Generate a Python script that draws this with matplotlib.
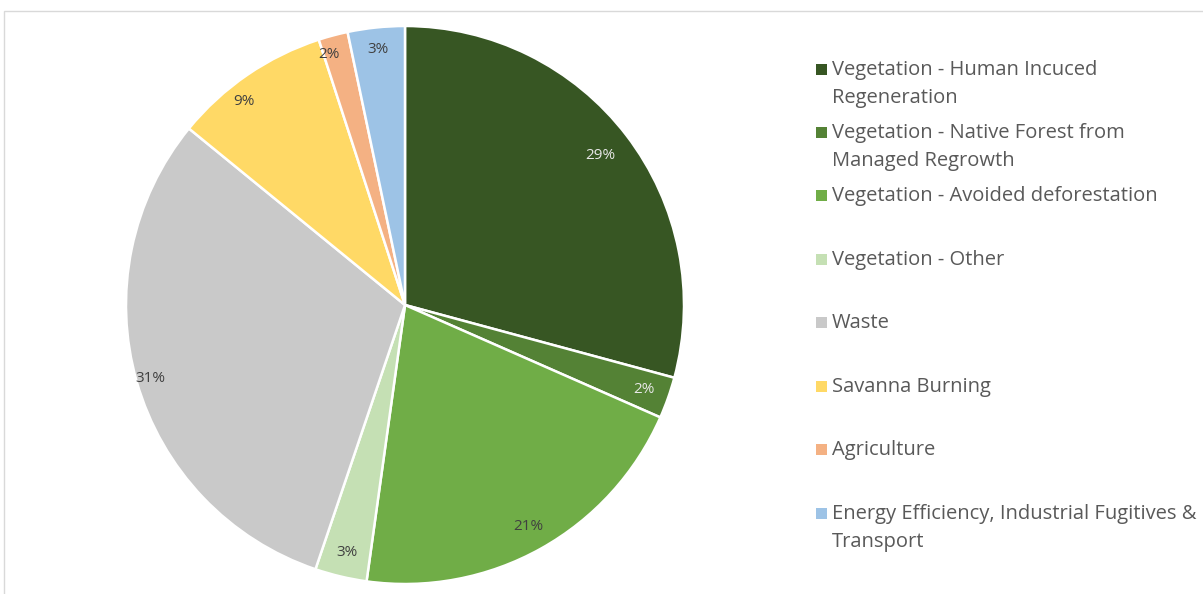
import matplotlib
matplotlib.use("Agg")
import matplotlib.pyplot as plt
import matplotlib.patches as mpatches
import numpy as np

categories = [
    "Vegetation - Human Incuced\nRegeneration",
    "Vegetation - Native Forest from\nManaged Regrowth",
    "Vegetation - Avoided deforestation",
    "Vegetation - Other",
    "Waste",
    "Savanna Burning",
    "Agriculture",
    "Energy Efficiency, Industrial Fugitives &\nTransport",
]
values = [29.2, 2.4, 20.6, 3.0, 30.7, 9.1, 1.7, 3.3]
pct_labels = ["29%", "2%", "21%", "3%", "31%", "9%", "2%", "3%"]
colors = ["#375623", "#548235", "#70AD47", "#C5E0B4", "#C9C9C9", "#FFD966", "#F4B183", "#9DC3E6"]
label_colors = ["#E8E8E8", "#E8E8E8", "#404040", "#404040", "#404040", "#404040", "#404040", "#404040"]
label_dist = [0.88, 0.91, 0.91, 0.91, 0.95, 0.93, 0.94, 0.92]
label_angle_shift = [0, 0, 0, 0, 0, 4, 2, 0]

W, H = 1203, 594
fig = plt.figure(figsize=(W / 100, H / 100), dpi=100)
fig.patch.set_facecolor("white")

# light frame
fig.add_artist(mpatches.Rectangle((4 / W, -0.1), 1.2, (H - 11) / H + 0.1,
                                  transform=fig.transFigure, fill=False,
                                  edgecolor="#D9D9D9", linewidth=1.0))

cx, cy, R = 405, 305, 279
ax = fig.add_axes([(cx - R) / W, (H - cy - R) / H, 2 * R / W, 2 * R / H])
wedges, _ = ax.pie(values, colors=colors, startangle=90, counterclock=False,
                   radius=1.0, wedgeprops=dict(edgecolor="white", linewidth=1.8))
ax.set_xlim(-1, 1)
ax.set_ylim(-1, 1)
ax.set_aspect("equal")
ax.axis("off")

for w, lab, col, d, s in zip(wedges, pct_labels, label_colors, label_dist, label_angle_shift):
    ang = np.deg2rad((w.theta1 + w.theta2) / 2 + s)
    ax.text(d * np.cos(ang), d * np.sin(ang), lab, ha="center", va="center",
            fontsize=11, color=col, family="Open Sans")

# legend
entry_y = [70, 133, 196, 260, 323, 387, 450, 514]
for cat, col, y in zip(categories, colors, entry_y):
    fig.add_artist(mpatches.Rectangle((816 / W, (H - y - 5) / H), 11 / W, 11 / H,
                                      transform=fig.transFigure, facecolor=col,
                                      edgecolor="none"))
    for i, ln in enumerate(cat.split("\n")):
        fig.text(832 / W, (H - (y + 28 * i)) / H, ln, ha="left", va="center",
                 fontsize=14.5, color="#595959", family="Open Sans")

fig.savefig("out.png", dpi=100, facecolor="white")
